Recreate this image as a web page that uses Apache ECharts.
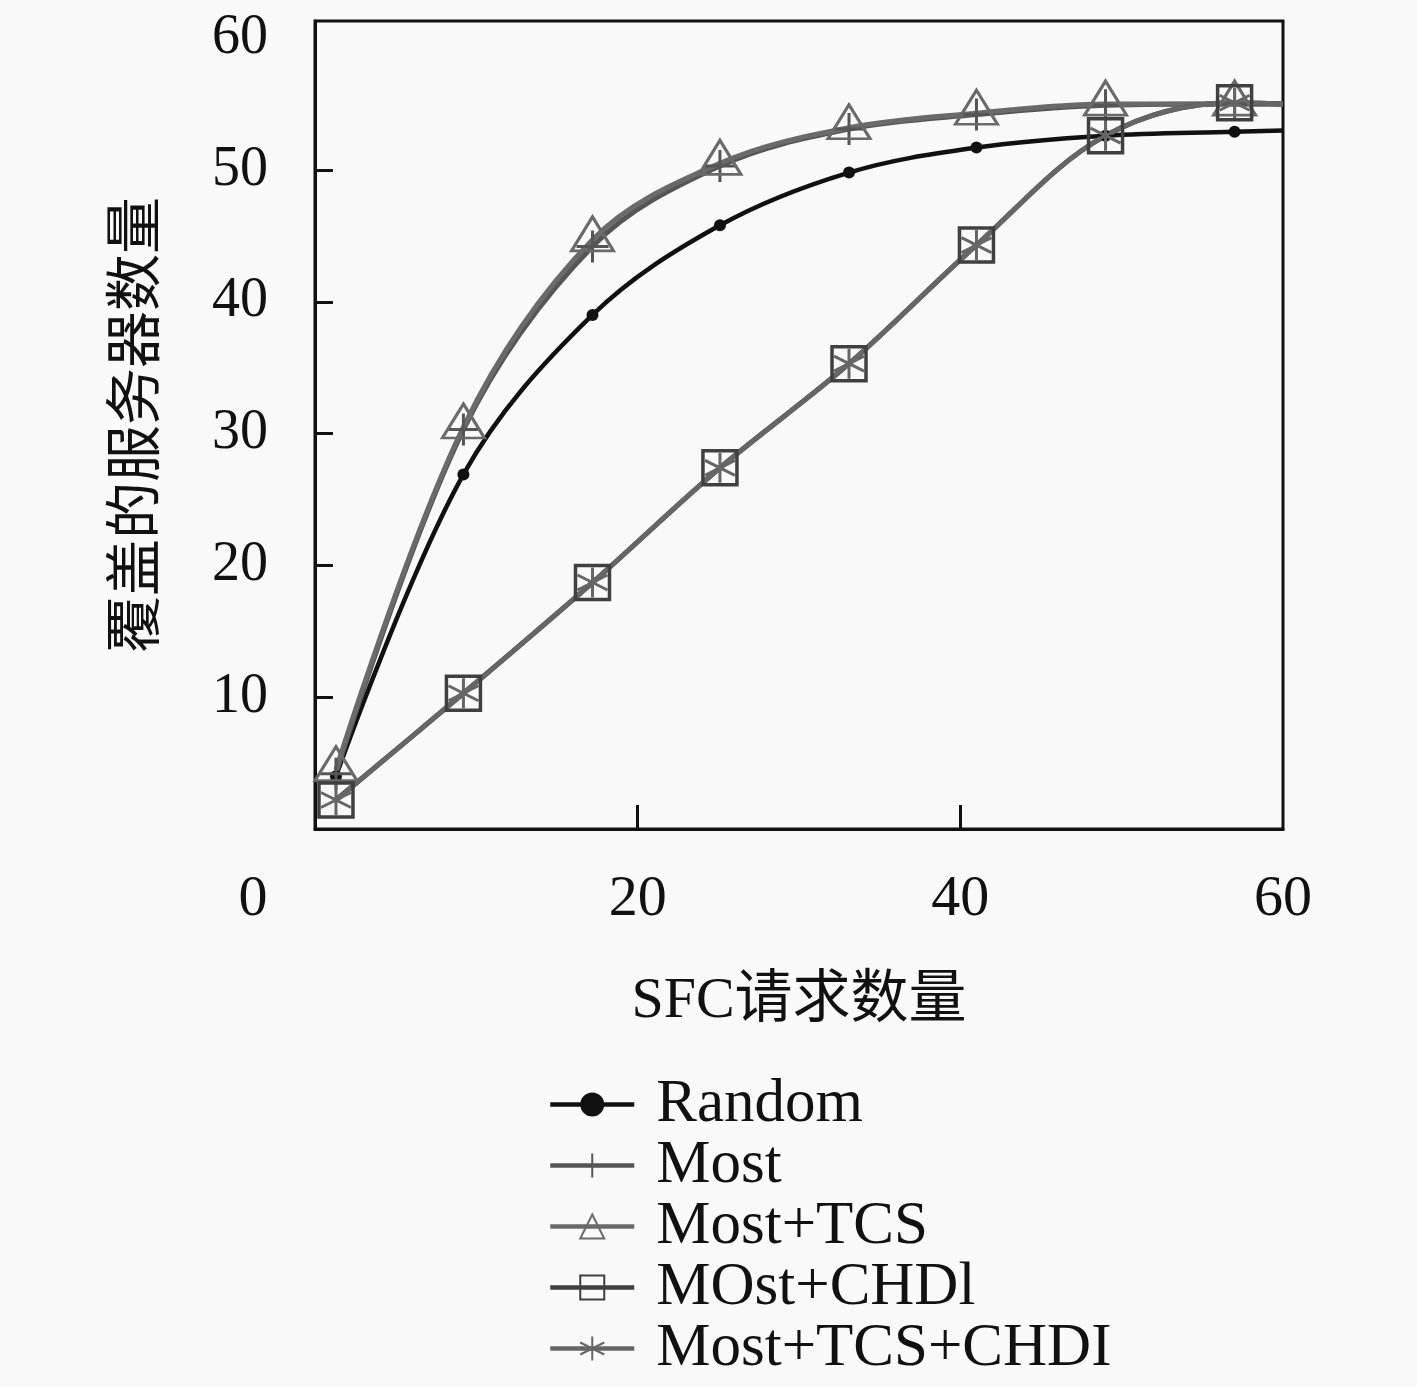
<!DOCTYPE html>
<html>
<head>
<meta charset="utf-8">
<script src="https://cdn.jsdelivr.net/npm/echarts@6/dist/echarts.min.js"></script>
<style>
html,body{margin:0;padding:0;background:#f9f9f9;}
#main{width:1417px;height:1387px;}
</style>
</head>
<body>
<div id="main"></div>
<script>
// SFC请求数量 (x) vs 覆盖的服务器数量 (y)
var xData = [1.3, 9.2, 17.2, 25.1, 33.1, 41, 49, 57, 60];
var randomY = [4.0, 26.9, 39.0, 45.8, 49.8, 51.7, 52.6, 52.9, 53.0];
var mostY = [4.2, 30.3, 44.2, 50.3, 53.1, 54.2, 54.9, 55.0, 55.0];
var mostTcsY = [4.5, 30.5, 44.7, 50.5, 53.2, 54.3, 55.0, 55.0, 55.0];
var mostChdiY = [2.2, 10.3, 18.7, 27.4, 35.3, 44.3, 52.6, 55.1, 55.0];
var mostTcsChdiY = [2.2, 10.3, 18.7, 27.4, 35.3, 44.3, 52.6, 55.1, 55.0];
var names = ['Random', 'Most', 'Most+TCS', 'MOst+CHDl', 'Most+TCS+CHDI'];
var xTicks = [0, 20, 40, 60];
var yTicks = [10, 20, 30, 40, 50, 60];

var FONT = "'Liberation Serif', 'Noto Sans CJK SC', serif";
var PLUS = 'path://M0,-10L0,10M-10,0L10,0';
var STAR = 'path://M0,-10L0,10M-8.66,-5L8.66,5M-8.66,5L8.66,-5';

// pair x with y; the point at the right border is line only
function pts(ys) {
	return xData.map(function (x, i) {
		var p = { value: [x, ys[i]] };
		if (x == 60) p.symbol = 'none';
		return p;
	});
}

function mkSeries(name, ys, color, width, symbol, size, filled, offset, bw) {
	return {
		name: name,
		type: 'line',
		smooth: 0.35,
		data: pts(ys),
		symbol: symbol,
		symbolSize: size,
		symbolOffset: offset || [0, 0],
		showAllSymbol: true,
		lineStyle: { color: color, width: width },
		itemStyle: filled ? { color: color } :
			{ color: 'transparent', borderColor: color, borderWidth: bw || 3 },
		emphasis: { disabled: true },
		z: 2
	};
}

var dom = document.getElementById('main');
var myChart = echarts.init(dom);
var option = {
	backgroundColor: '#f9f9f9',
	animation: false,
	grid: {
		left: 315, right: 134, top: 21, bottom: 558,
		show: true, borderColor: '#111', borderWidth: 3,
		backgroundColor: 'transparent'
	},
	legend: {
		orient: 'vertical',
		left: 548,
		top: 1074,
		padding: 0,
		itemWidth: 84,
		itemHeight: 30,
		itemGap: 0,
		data: names,
		lineStyle: { width: 4.5 },
		textStyle: {
			fontFamily: FONT, fontSize: 61, color: '#111',
			padding: [0, 0, 0, 17]
		}
	},
	xAxis: {
		type: 'value',
		min: 0, max: 60, interval: 20,
		name: 'SFC请求数量',
		nameLocation: 'middle',
		nameGap: 144,
		nameTextStyle: { fontFamily: FONT, fontSize: 58, color: '#111' },
		splitLine: { show: false },
		axisLine: { show: true, onZero: false, lineStyle: { color: '#111', width: 3 } },
		axisTick: { show: true, inside: true, length: 24, customValues: [20, 40],
			lineStyle: { color: '#111', width: 3 } },
		axisLabel: {
			margin: 42,
			customValues: xTicks,
			fontFamily: FONT, fontSize: 58, color: '#111',
			formatter: function (v) {
				return v == 0 ? '{o|0}' : String(v);
			},
			rich: { o: { fontFamily: FONT, fontSize: 58, color: '#111', padding: [0, 124, 0, 0] } }
		}
	},
	yAxis: {
		type: 'value',
		min: 0, max: 61.3, interval: 10,
		name: '覆盖的服务器数量',
		nameLocation: 'middle',
		nameGap: 147,
		nameTextStyle: { fontFamily: FONT, fontSize: 57, color: '#111' },
		splitLine: { show: false },
		axisLine: { show: true, onZero: false, lineStyle: { color: '#111', width: 3 } },
		axisTick: { show: true, inside: true, length: 18, customValues: [10, 20, 30, 40, 50],
			lineStyle: { color: '#111', width: 3 } },
		axisLabel: {
			margin: 47,
			customValues: yTicks,
			fontFamily: FONT, fontSize: 56, color: '#111'
		}
	},
	series: [
		mkSeries(names[0], randomY, '#111', 4.5, 'circle', 12, true),
		mkSeries(names[1], mostY, '#555', 5, PLUS, 32, false),
		mkSeries(names[2], mostTcsY, '#6a6a6a', 5, 'triangle', [42, 34], false, [0, -6]),
		mkSeries(names[3], mostChdiY, '#404040', 5, 'rect', 34, false, null, 3.5),
		mkSeries(names[4], mostTcsChdiY, '#666', 5, STAR, 30, false)
	]
};
if (option && typeof option === "object") {
	myChart.setOption(option, true);
}
</script>
</body>
</html>
